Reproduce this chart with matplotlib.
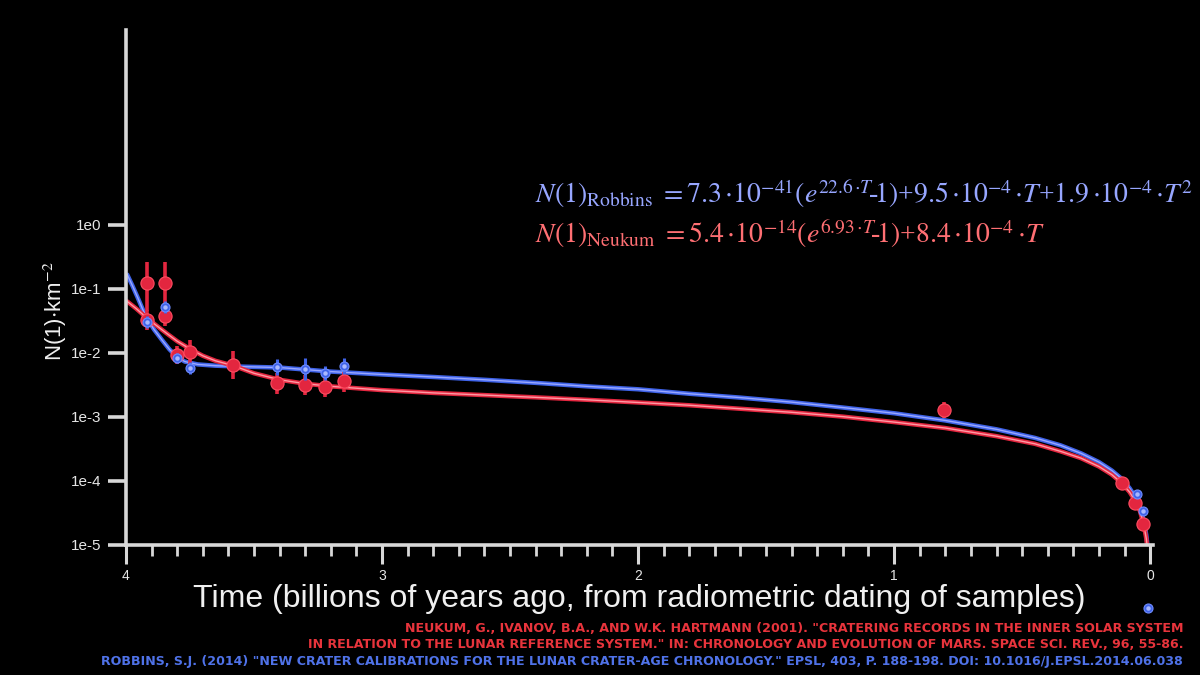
import matplotlib
matplotlib.use("Agg")
import matplotlib.pyplot as plt
from matplotlib.ticker import MultipleLocator, NullLocator, FixedLocator

plt.rcParams['font.family'] = ['Liberation Sans', 'DejaVu Sans']
plt.rcParams['mathtext.fontset'] = 'stix'

# ------------------ DATA ------------------

# fitted curves
robbins_t = [3.995, 3.975, 3.955, 3.935, 3.915, 3.89, 3.86, 3.83, 3.80, 3.77,
             3.72, 3.65, 3.55, 3.40, 3.20, 3.00, 2.80, 2.60, 2.40, 2.20,
             2.00, 1.80, 1.60, 1.40, 1.20, 1.00, 0.80, 0.60, 0.45, 0.35,
             0.27, 0.20, 0.15, 0.11, 0.08, 0.06, 0.04, 0.025, 0.015, 0.010]
robbins_n = [0.166, 0.112, 0.074, 0.048, 0.033, 0.023, 0.0160, 0.0113, 0.0086, 0.0073,
             0.0066, 0.0063, 0.0061, 0.0059, 0.0051, 0.0046, 0.0042, 0.0038, 0.0034, 0.0030,
             0.0027, 0.0023, 0.0020, 0.0017, 0.0014, 0.00114, 0.00088, 0.00064, 0.00047, 0.00036,
             0.00027, 0.000197, 0.000146, 0.000107, 0.000077, 0.000058, 0.000038, 0.000024, 0.0000143, 0.0000096]

neukum_t = [3.995, 3.96, 3.92, 3.88, 3.84, 3.80, 3.75, 3.70, 3.65, 3.58,
            3.50, 3.40, 3.30, 3.20, 3.00, 2.80, 2.60, 2.40, 2.20, 2.00,
            1.80, 1.60, 1.40, 1.20, 1.00, 0.80, 0.60, 0.45, 0.35, 0.27,
            0.20, 0.15, 0.11, 0.08, 0.06, 0.04, 0.025, 0.015, 0.010]
neukum_n = [0.0634, 0.049, 0.0355, 0.0265, 0.0200, 0.0152, 0.0115, 0.0090, 0.0075, 0.0063,
            0.0048, 0.0038, 0.0033, 0.0030, 0.00262, 0.00237, 0.00219, 0.00202, 0.00185, 0.00168,
            0.00152, 0.00134, 0.00118, 0.00101, 0.00083, 0.00067, 0.00050, 0.00038, 0.00029, 0.000227,
            0.000168, 0.000126, 0.000092, 0.000067, 0.000050, 0.000034, 0.000021, 0.0000126, 0.0000084]

# calibration points (Neukum, red)
red_t = [3.919, 3.848, 3.848, 3.919, 3.800, 3.750, 3.581, 3.412, 3.301, 3.221, 3.149, 0.804, 0.110, 0.058, 0.026]
red_n = [0.123, 0.123, 0.037, 0.0328, 0.0093, 0.0104, 0.0065, 0.00336, 0.00316, 0.00294, 0.00365, 0.00129, 9.2e-5, 4.5e-5, 2.1e-5]
red_lo = [0.045, 0.045, 0.0258, 0.0229, 0.0068, 0.0068, 0.0039, 0.00229, 0.00221, 0.00205, 0.00246, 0.00096, 8.0e-5, 3.9e-5, 1.8e-5]
red_hi = [0.258, 0.258, 0.053, 0.047, 0.0129, 0.016, 0.0107, 0.00487, 0.00457, 0.00422, 0.00505, 0.00173, 1.06e-4, 5.2e-5, 2.4e-5]

# calibration points (Robbins, blue)
blue_t = [3.919, 3.848, 3.800, 3.750, 3.410, 3.301, 3.221, 3.149, 0.053, 0.026, 0.0066]
blue_n = [0.0308, 0.0528, 0.00826, 0.00577, 0.00611, 0.00556, 0.00482, 0.00627, 6.2e-5, 3.44e-5, 1.03e-6]
blue_lo = [0.0248, 0.0426, 0.0069, 0.00465, 0.00459, 0.00374, 0.00375, 0.00471, 5.6e-5, 3.1e-5, 1.03e-6]
blue_hi = [0.0382, 0.0655, 0.0099, 0.00716, 0.00813, 0.00826, 0.0062, 0.00834, 6.9e-5, 3.8e-5, 1.03e-6]

x_ticks = [4, 3, 2, 1, 0]
y_ticks = [1e0, 1e-1, 1e-2, 1e-3, 1e-4, 1e-5]
y_labels = ['1e0', '1e-1', '1e-2', '1e-3', '1e-4', '1e-5']

GREY = '#d8d8d8'
RED = '#e3263f'
BLUE = '#3f63e8'

# ------------------ PLOT ------------------

fig = plt.figure(figsize=(12, 6.75), dpi=100, facecolor='black')
ax = fig.add_axes([0.105, 0.1926, 0.856, 0.763])
ax.set_facecolor('black')

ax.plot(robbins_t, robbins_n, color=BLUE, lw=3.2, solid_capstyle='round', zorder=2)
ax.plot(robbins_t, robbins_n, color='#9aa8ff', lw=1.0, zorder=2.1)
ax.plot(neukum_t, neukum_n, color=RED, lw=3.2, solid_capstyle='round', zorder=2.2)
ax.plot(neukum_t, neukum_n, color='#ff9aa4', lw=1.0, zorder=2.3)

red_err = [[n - lo for n, lo in zip(red_n, red_lo)], [hi - n for n, hi in zip(red_n, red_hi)]]
ax.errorbar(red_t, red_n, yerr=red_err, fmt='o', color=RED, ms=9.5, mec='#ff4d62', mew=0.8,
            elinewidth=2.6, capsize=0, zorder=3)

blue_err = [[n - lo for n, lo in zip(blue_n, blue_lo)], [hi - n for n, hi in zip(blue_n, blue_hi)]]
ax.errorbar(blue_t, blue_n, yerr=blue_err, fmt='o', color=BLUE, ms=6.5, mec='#6f8cff', mew=0.8,
            elinewidth=2.2, capsize=0, zorder=4, clip_on=False)
ax.plot(blue_t, blue_n, 'o', color='#a9b8ff', ms=2.2, zorder=4.1, clip_on=False)

ax.set_yscale('log')
ax.set_ylim(1e-5, 1.1e3)
ax.set_xlim(4, -0.012)

for side in ['top', 'right']:
    ax.spines[side].set_visible(False)
for side in ['left', 'bottom']:
    ax.spines[side].set_color(GREY)
    ax.spines[side].set_linewidth(2.6)

ax.yaxis.set_major_locator(FixedLocator(y_ticks))
ax.yaxis.set_minor_locator(NullLocator())
ax.set_yticklabels(y_labels)
ax.xaxis.set_major_locator(FixedLocator(x_ticks))
ax.xaxis.set_minor_locator(MultipleLocator(0.1))
ax.set_xticklabels([str(t) for t in x_ticks])

ax.tick_params(axis='y', which='major', length=13, width=2.6, color=GREY,
               labelcolor='#e6e6e6', labelsize=11, pad=5)
ax.tick_params(axis='x', which='major', length=14, width=2.2, color=GREY,
               labelcolor='#e6e6e6', labelsize=10, pad=3)
ax.tick_params(axis='x', which='minor', length=8, width=2.0, color=GREY)

fig.text(0.046, 0.539, r'N(1)$\cdot$km$^{-2}$', rotation=90, color='#f0f0f0',
         fontsize=16, ha='center', va='center')
fig.text(0.533, 0.112, 'Time (billions of years ago, from radiometric dating of samples)',
         color='#f0f0f0', fontsize=23, ha='center', va='center')

fig.text(0.446, 0.699,
         r'$N(1)_{\mathrm{Robbins}}$ $=7.3\,{\cdot}10^{-41}(e^{22.6\,{\cdot}T}\!$-$\!1)$+$9.5\,{\cdot}10^{-4}\,{\cdot}T$+$1.9\,{\cdot}10^{-4}\,{\cdot}T^2$',
         color='#97a6ff', fontsize=20, family='Liberation Serif', ha='left', va='baseline')
fig.text(0.446, 0.640,
         r'$N(1)_{\mathrm{Neukum}}$ $=5.4\,{\cdot}10^{-14}(e^{6.93\,{\cdot}T}\!$-$\!1)$+$8.4\,{\cdot}10^{-4}\,{\cdot}T$',
         color='#ff6f73', fontsize=20, family='Liberation Serif', ha='left', va='baseline')

cite = [
    ('NEUKUM, G., IVANOV, B.A., AND W.K. HARTMANN (2001). "CRATERING RECORDS IN THE INNER SOLAR SYSTEM', '#e8343c', 0.0696),
    ('IN RELATION TO THE LUNAR REFERENCE SYSTEM." IN: CHRONOLOGY AND EVOLUTION OF MARS. SPACE SCI. REV., 96, 55-86.', '#e8343c', 0.0459),
    ('ROBBINS, S.J. (2014) "NEW CRATER CALIBRATIONS FOR THE LUNAR CRATER-AGE CHRONOLOGY." EPSL, 403, P. 188-198. DOI: 10.1016/J.EPSL.2014.06.038', '#4f72e8', 0.0207),
]
for txt, col, y in cite:
    fig.text(0.986, y, txt, color=col, fontsize=9.1, fontweight='bold', family='DejaVu Sans',
             ha='right', va='center')

fig.savefig('out.png', dpi=100, facecolor='black')
